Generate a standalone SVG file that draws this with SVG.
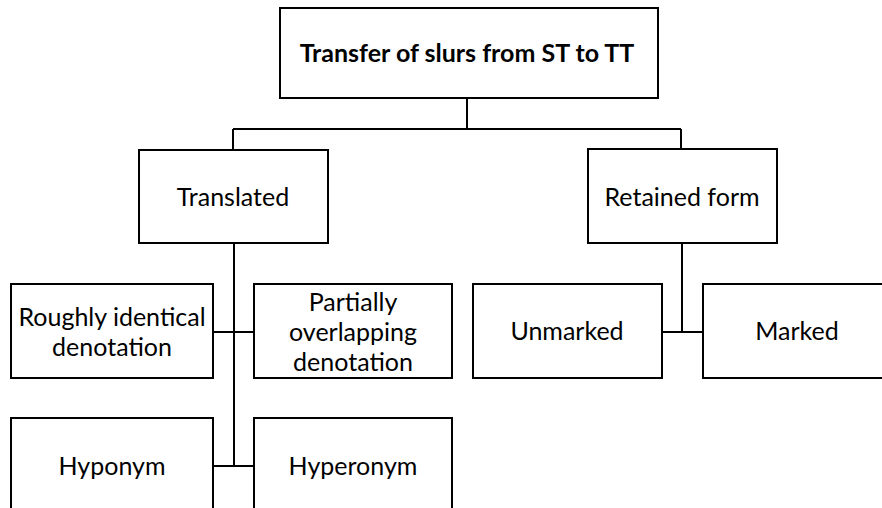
<svg xmlns="http://www.w3.org/2000/svg" width="882" height="508" viewBox="0 0 882 508">
<style>
.box{fill:#fff;stroke:#000;stroke-width:2}
.lbl{font-family:Lato,"Liberation Sans",sans-serif;font-size:25px;fill:#000;text-anchor:middle;dominant-baseline:central}
.title{font-weight:bold}
.con{fill:none;stroke:#000;stroke-width:2}
</style>
<rect width="882" height="508" fill="#fff"/>
<g id="connectors">
<path class="con" d="M467 98V129M233 129H681M233 129V150M681 129V149"/>
<path class="con" d="M234 243V466M213 332H254M213 466H254"/>
<path class="con" d="M682 243V332M662 332H703"/>
</g>
<g id="n-root"><rect class="box" x="280" y="8" width="378" height="90"/><text class="lbl title" x="467" y="52">Transfer of slurs from ST to TT</text></g>
<g id="n-translated"><rect class="box" x="139" y="150" width="189" height="93"/><text class="lbl" x="233" y="196">Translated</text></g>
<g id="n-retained"><rect class="box" x="588" y="149" width="189" height="94"/><text class="lbl" x="682" y="196">Retained form</text></g>
<g id="n-roughly"><rect class="box" x="11" y="284" width="202" height="94"/><text class="lbl" x="112" y="316">Roughly identical</text><text class="lbl" x="112" y="346">denotation</text></g>
<g id="n-partially"><rect class="box" x="254" y="284" width="198" height="94"/><text class="lbl" x="353" y="301">Partially</text><text class="lbl" x="353" y="331">overlapping</text><text class="lbl" x="353" y="361">denotation</text></g>
<g id="n-unmarked"><rect class="box" x="473" y="284" width="189" height="94"/><text class="lbl" x="567" y="330">Unmarked</text></g>
<g id="n-marked"><rect class="box" x="703" y="284" width="190" height="94"/><text class="lbl" x="797" y="330">Marked</text></g>
<g id="n-hyponym"><rect class="box" x="11" y="418" width="202" height="100"/><text class="lbl" x="112" y="465">Hyponym</text></g>
<g id="n-hyperonym"><rect class="box" x="254" y="418" width="198" height="100"/><text class="lbl" x="353" y="465">Hyperonym</text></g>
</svg>
